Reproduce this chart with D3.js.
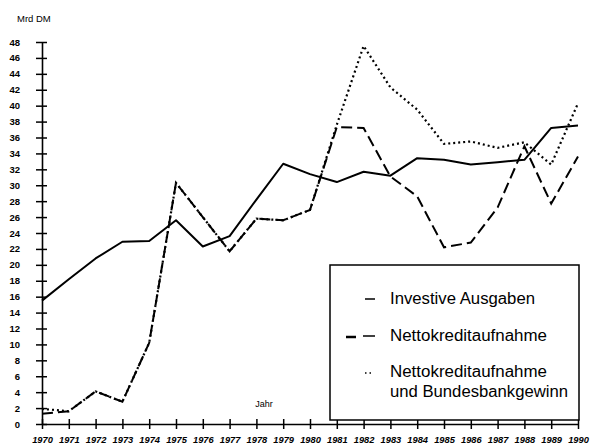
<!DOCTYPE html>
<html><head><meta charset="utf-8">
<script src="https://cdn.jsdelivr.net/npm/d3@7"></script>
<style>body{margin:0;background:#fff}svg{display:block}</style>
</head><body>
<svg id="c" width="593" height="444"></svg>
<script>
const years = d3.range(1970, 1991);
const investiveAusgaben = [15.5,18.2,20.8,22.9,23.0,25.6,22.3,23.6,28.2,32.7,31.4,30.4,31.7,31.2,33.4,33.2,32.6,32.9,33.2,37.2,37.5];
const nettokreditaufnahme = [1.3,1.6,4.1,2.8,10.2,30.3,26.0,21.7,25.8,25.6,26.9,37.3,37.2,31.1,28.6,22.2,22.8,27.2,34.9,27.7,33.6];
const nettoUndBundesbank = [1.9,1.6,4.1,2.8,10.2,30.3,26.0,21.7,25.8,25.6,26.9,37.6,47.5,42.3,39.5,35.2,35.5,34.7,35.4,32.6,40.3];
const yTicks = d3.range(0, 49, 2);
const legendLabels = ["Investive Ausgaben","Nettokreditaufnahme",["Nettokreditaufnahme","und Bundesbankgewinn"]];

const svg = d3.select("#c");
const x = d3.scaleLinear().domain([1970,1990]).range([42,578]);
const y = d3.scaleLinear().domain([0,48]).range([424,42]);
const font = "'Liberation Sans', Arial, sans-serif";

// y axis
const ya = svg.append("g").attr("transform","translate(42,0)")
  .call(d3.axisLeft(y).tickValues(yTicks).tickSize(6).tickPadding(16).tickSizeOuter(0));
ya.select(".domain").attr("stroke","#000").attr("stroke-width",1.6);
ya.selectAll(".tick line").attr("x1",5).attr("x2",-6).attr("stroke","#000").attr("stroke-width",1.5);
ya.selectAll(".tick text").attr("font-family",font).attr("font-size",9.5).attr("font-weight","bold").attr("fill","#000");

// x axis
const xa = svg.append("g").attr("transform","translate(0,424)")
  .call(d3.axisBottom(x).tickValues(years).tickFormat(d3.format("d")).tickSize(5).tickSizeOuter(0));
xa.select(".domain").attr("stroke","#000").attr("stroke-width",1.6);
xa.selectAll(".tick line").attr("y1",-5).attr("y2",5).attr("stroke","#000").attr("stroke-width",1.5);
xa.selectAll(".tick text").attr("y",19).attr("dy","0").attr("font-family",font).attr("font-size",9.3)
  .attr("font-weight","bold").attr("font-style","italic").attr("fill","#000");

svg.append("text").attr("x",17).attr("y",22).attr("font-family",font).attr("font-size",9.5).text("Mrd  DM");
svg.append("text").attr("x",264).attr("y",407).attr("text-anchor","middle").attr("font-family",font).attr("font-size",9).text("Jahr");

const line = d3.line().x((d,i)=>x(years[i])).y(d=>y(d));
svg.append("path").datum(nettoUndBundesbank).attr("d",line).attr("fill","none")
  .attr("stroke","#000").attr("stroke-width",2.2).attr("stroke-dasharray","2,3");
svg.append("path").datum(nettokreditaufnahme).attr("d",line).attr("fill","none")
  .attr("stroke","#000").attr("stroke-width",2).attr("stroke-dasharray","11,5");
svg.append("path").datum(investiveAusgaben).attr("d",line).attr("fill","none")
  .attr("stroke","#000").attr("stroke-width",2).attr("stroke-linejoin","round");

// legend
const lg = svg.append("g");
lg.append("rect").attr("x",330).attr("y",265).attr("width",249).attr("height",155)
  .attr("fill","#fff").attr("stroke","#000").attr("stroke-width",1.5);
const lf = 16;
function lt(txt, yy, len){
  lg.append("text").attr("x",390).attr("y",yy).attr("font-family",font).attr("font-size",lf)
    .attr("textLength",len).attr("lengthAdjust","spacingAndGlyphs").text(txt);
}
lt(legendLabels[0],304,145);
lt(legendLabels[1],341,157);
lt(legendLabels[2][0],377,157);
lt(legendLabels[2][1],397,178);
lg.append("line").attr("x1",365).attr("x2",375).attr("y1",299).attr("y2",299).attr("stroke","#000").attr("stroke-width",1.5);
lg.append("line").attr("x1",346).attr("x2",356).attr("y1",337).attr("y2",337).attr("stroke","#000").attr("stroke-width",2.5);
lg.append("line").attr("x1",363).attr("x2",375).attr("y1",336).attr("y2",336).attr("stroke","#000").attr("stroke-width",1.5);
lg.append("line").attr("x1",365).attr("x2",372).attr("y1",373).attr("y2",373).attr("stroke","#000").attr("stroke-width",1.5).attr("stroke-dasharray","1.5,3");
</script>
</body></html>
